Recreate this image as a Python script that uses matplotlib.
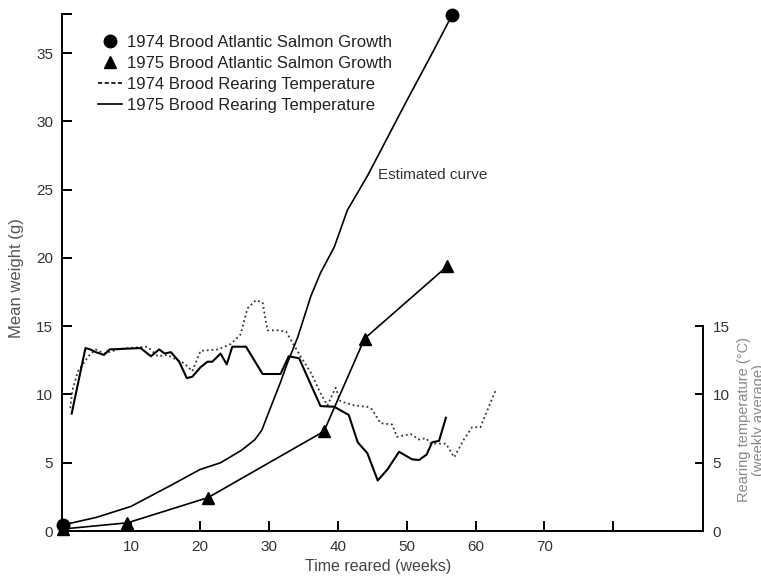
import matplotlib
matplotlib.use('Agg')
import matplotlib.pyplot as plt
from matplotlib.lines import Line2D

plt.rcParams['font.family'] = ['Liberation Sans', 'DejaVu Sans']

# ===== Growth data (mean weight, g) =====
semanas_74 = [0.2, 56.6]
peso_74 = [0.45, 37.8]

# estimated growth curve of the 1974 brood
curva_semanas = [0.2, 5, 10, 16, 20, 23, 26, 28, 29, 30.3, 31.7, 32.7, 34.2,
                 36.1, 37.5, 39.5, 41.4, 44.3, 47.2, 50.1, 53.5, 56.6]
curva_peso = [0.45, 1.0, 1.8, 3.4, 4.5, 5.0, 5.9, 6.7, 7.4, 9.1, 10.9, 12.3, 14.2,
              17.2, 18.9, 20.8, 23.5, 26.0, 28.8, 31.6, 34.8, 37.8]

semanas_75 = [0.2, 9.5, 21.2, 38.0, 43.9, 55.9]
peso_75 = [0.15, 0.6, 2.45, 7.3, 14.1, 19.4]

# ===== Rearing temperature (weekly average, C) =====
temp_semanas_74 = [1.2, 1.5, 2.3, 3.0, 4.0, 4.9, 6.1, 8.1, 9.5, 12.4, 13.9, 15.3, 16.8,
                   17.7, 18.9, 20.1, 22.6, 24.5, 25.9, 26.9, 28.1, 29.1, 29.8, 31.3,
                   32.5, 33.2, 34.6, 36.1, 37.5, 38.5, 39.7, 40.4, 42.4, 44.3, 45.0,
                   46.2, 47.9, 48.6, 50.6, 51.8, 52.8, 53.5, 54.6, 55.7, 56.9, 58.3,
                   59.5, 60.7, 62.9]
temp_74 = [9.0, 10.3, 11.7, 12.2, 12.9, 13.3, 13.0, 13.3, 13.4, 13.5, 12.8, 12.9, 12.5,
           12.3, 11.7, 13.2, 13.3, 13.7, 14.4, 16.3, 16.9, 16.75, 14.7, 14.7,
           14.6, 14.0, 12.8, 11.6, 10.1, 9.2, 10.5, 9.5, 9.2, 9.1, 8.9,
           7.9, 7.8, 6.9, 7.1, 6.7, 6.8, 6.4, 6.4, 6.4, 5.4, 6.7,
           7.6, 7.6, 10.3]

temp_semanas_75 = [1.4, 3.4, 4.1, 4.9, 6.1, 6.9, 11.4, 12.9, 14.1, 14.9, 15.8, 17.0,
                   18.1, 18.9, 20.1, 21.1, 21.8, 23.0, 23.9, 24.7, 26.7, 29.1, 31.7,
                   32.9, 34.4, 37.5, 39.5, 41.6, 42.9, 44.3, 45.8, 47.2, 48.9, 50.8,
                   51.8, 52.9, 53.7, 54.7, 55.7]
temp_75 = [8.6, 13.4, 13.3, 13.1, 12.9, 13.3, 13.4, 12.8, 13.3, 13.0, 13.1, 12.4,
           11.2, 11.3, 12.0, 12.4, 12.4, 13.0, 12.2, 13.5, 13.5, 11.5, 11.5,
           12.8, 12.65, 9.15, 9.1, 8.5, 6.5, 5.7, 3.7, 4.5, 5.8, 5.25,
           5.2, 5.6, 6.5, 6.6, 8.3]

x_ticks = [10, 20, 30, 40, 50, 60, 70, 80]
x_tick_labels = ['10', '20', '30', '40', '50', '60', '70', '']

# ===== Figure =====
fig = plt.figure(figsize=(7.61, 5.79), dpi=100)
ax = fig.add_axes([0.0815, 0.0829, 0.8423, 0.8929])
ax.set_xlim(0, 93)
ax.set_ylim(0, 37.87)

pontilhado = (0, (1.0, 1.6))
ax.plot(temp_semanas_74, temp_74, color='#333333', lw=1.3, linestyle=pontilhado)
ax.plot(temp_semanas_75, temp_75, color='black', lw=1.5)

ax.plot(curva_semanas, curva_peso, color='black', lw=1.2)
ax.plot(semanas_74, peso_74, 'o', color='black', ms=9, clip_on=False)
ax.plot(semanas_75, peso_75, '-^', color='black', lw=1.2, ms=9, clip_on=False)

ax.text(45.9, 26.1, 'Estimated curve', fontsize=11, color='#333333',
        ha='left', va='center')

# spines / ticks
ax.spines['top'].set_visible(False)
ax.spines['right'].set_visible(False)
for s in ['left', 'bottom']:
    ax.spines[s].set_linewidth(1.4)

ax.set_xticks(x_ticks)
ax.set_xticklabels(x_tick_labels)
ax.set_yticks([0, 5, 10, 15, 20, 25, 30, 35])
ax.set_yticks([37.87], minor=True)
ax.tick_params(which='both', direction='in', length=7, width=1.4,
               labelsize=11, labelcolor='#333333', pad=6.5)
ax.tick_params(axis='y', which='minor', labelleft=False)

ax.set_ylabel('Mean weight (g)', fontsize=12, color='#555555')
ax.yaxis.set_label_coords(-0.059, 0.49)
ax.set_xlabel('Time reared (weeks)', fontsize=11.5, color='#444444')
ax.xaxis.set_label_coords(0.493, -0.054)

ax2 = ax.twinx()
ax2.set_ylim(0, 37.87)
ax2.set_yticks([0, 5, 10, 15])
for s in ['left', 'top', 'bottom']:
    ax2.spines[s].set_visible(False)
ax2.spines['right'].set_bounds(0, 15)
ax2.spines['right'].set_linewidth(1.4)
ax2.tick_params(direction='in', length=6, width=1.4, labelsize=11,
                labelcolor='#333333', pad=7)
ax2.set_ylabel('Rearing temperature (°C)\n(weekly average)', fontsize=10.5,
               color='#888888', rotation=90, linespacing=1.1)
ax2.yaxis.set_label_coords(1.053, 0.215)

# legend
handles = [
    Line2D([], [], marker='o', color='black', ls='none', ms=9),
    Line2D([], [], marker='^', color='black', ls='none', ms=9),
    Line2D([], [], color='black', lw=1.2, ls=(0, (2.5, 1.5))),
    Line2D([], [], color='black', lw=1.2),
]
labels = ['1974 Brood Atlantic Salmon Growth', '1975 Brood Atlantic Salmon Growth',
          '1974 Brood Rearing Temperature', '1975 Brood Rearing Temperature']
leg = ax.legend(handles, labels, loc='upper left', bbox_to_anchor=(0.129, 0.94),
                bbox_transform=fig.transFigure, frameon=False, fontsize=12,
                handlelength=1.4, handletextpad=0.35, labelspacing=0.36,
                borderpad=0, borderaxespad=0)
for t in leg.get_texts():
    t.set_color('#222222')

fig.savefig('out.png', dpi=100)
